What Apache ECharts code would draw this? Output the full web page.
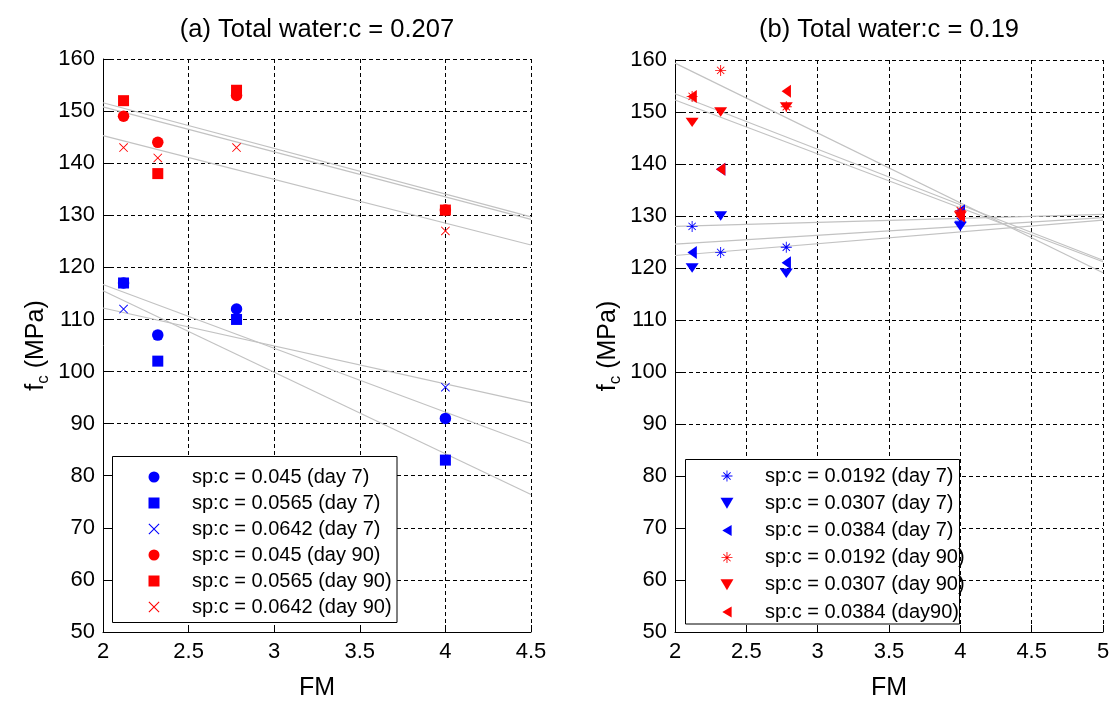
<!DOCTYPE html>
<html>
<head>
<meta charset="utf-8">
<script src="https://cdn.jsdelivr.net/npm/echarts@6/dist/echarts.min.js"></script>
<style>
html,body{margin:0;padding:0;background:#fff;}
#chart{width:1115px;height:702px;}
</style>
</head>
<body>
<div id="chart"></div>
<script>
// ---------- data ----------
const FM = [2.12, 2.32, 2.78, 4.0];

// (a) Total water:c = 0.207
const titleA = '(a) Total water:c = 0.207';
const namesA = ['sp:c = 0.045 (day 7)', 'sp:c = 0.0565 (day 7)', 'sp:c = 0.0642 (day 7)',
                'sp:c = 0.045 (day 90)', 'sp:c = 0.0565 (day 90)', 'sp:c = 0.0642 (day 90)'];
const a_045_d7   = [117, 107, 112, 91];
const a_0565_d7  = [117, 102, 110, 83];
const a_0642_d7  = [112, 107, 110, 97];
const a_045_d90  = [149, 144, 153, 131];
const a_0565_d90 = [152, 138, 154, 131];
const a_0642_d90 = [143, 141, 143, 127];
// trend lines, values read at FM = 2 and FM = 4.5
const trendFM_A = [2, 4.5];
const trendA_045_d7   = [116.7, 86.1];
const trendA_0565_d7  = [115.5, 76.4];
const trendA_0642_d7  = [112.2, 94.0];
const trendA_045_d90  = [151.6, 129.7];
const trendA_0565_d90 = [150.8, 129.2];
const trendA_0642_d90 = [145.3, 124.3];

// (b) Total water:c = 0.19
const titleB = '(b) Total water:c = 0.19';
const namesB = ['sp:c = 0.0192 (day 7)', 'sp:c = 0.0307 (day 7)', 'sp:c = 0.0384 (day 7)',
                'sp:c = 0.0192 (day 90)', 'sp:c = 0.0307 (day 90)', 'sp:c = 0.0384 (day90)'];
const b_0192_d7  = [128, 123, 124, 129];
const b_0307_d7  = [120, 130, 119, 128];
const b_0384_d7  = [123, 139, 121, 131];
const b_0192_d90 = [153, 158, 151, 131];
const b_0307_d90 = [148, 150, 151, 130];
const b_0384_d90 = [153, 139, 154, 130];
// trend lines, values read at FM = 2 and FM = 5
const trendFM_B = [2, 5];
const trendB_0192_d7  = [124.6, 129.7];
const trendB_0307_d7  = [122.4, 129.2];
const trendB_0384_d7  = [128.0, 130.3];
const trendB_0192_d90 = [159.4, 119.1];
const trendB_0307_d90 = [153.5, 121.5];
const trendB_0384_d90 = [152.3, 121.2];

// axis ticks
const xTicksA = [2, 2.5, 3, 3.5, 4, 4.5];
const xTicksB = [2, 2.5, 3, 3.5, 4, 4.5, 5];
const yTicks  = [50, 60, 70, 80, 90, 100, 110, 120, 130, 140, 150, 160];
const xLabel = 'FM';

// ---------- styling helpers ----------
const FONT = "'Liberation Sans', Arial, Helvetica, sans-serif";
const BLUE = '#0000ff', RED = '#ff0000';
const SQUARE = 'path://M0,0L100,0L100,100L0,100Z';
const X_PATH = 'path://M0,7L7,0L100,93L93,100ZM93,0L100,7L7,100L0,93Z';
const STAR_PATH = 'path://M0,46L100,46L100,54L0,54ZM54,0L54,100L46,100L46,0ZM14,20L20,14L86,80L80,86ZM80,14L86,20L20,86L14,80Z';
const DOWN_TRI = 'path://M0,0L100,0L50,85Z';
const LEFT_TRI = 'path://M85,0L85,100L0,50Z';

function pts(vals) { return FM.map((x, i) => [x, vals[i]]); }
function scatter(name, vals, color, symbol, size, ax) {
  return {
    type: 'scatter', name: name, xAxisIndex: ax, yAxisIndex: ax,
    symbol: symbol, symbolSize: size, symbolKeepAspect: true,
    itemStyle: { color: color, opacity: 1 },
    data: pts(vals), z: 3, silent: true, emphasis: { disabled: true }
  };
}
function trend(xs, ys, ax) {
  return {
    type: 'line', xAxisIndex: ax, yAxisIndex: ax, symbol: 'none',
    data: xs.map((x, i) => [x, ys[i]]),
    lineStyle: { color: '#c2c2c2', width: 1.2 }, z: 2, silent: true,
    emphasis: { disabled: true }
  };
}
function xAxis(ticks, ax) {
  return {
    gridIndex: ax, type: 'value', min: ticks[0], max: ticks[ticks.length - 1],
    interval: ticks[1] - ticks[0],
    name: xLabel, nameLocation: 'middle', nameGap: 44,
    nameTextStyle: { fontSize: 25, color: '#000', fontFamily: FONT },
    axisLine: { onZero: false, lineStyle: { color: '#000', width: 1 } },
    axisTick: { inside: true, length: 7, lineStyle: { color: '#000' } },
    axisLabel: { fontSize: 22, color: '#000', margin: 9, fontFamily: FONT,
                 showMinLabel: true, showMaxLabel: true },
    splitLine: { show: true, lineStyle: { color: '#000', type: [4, 3], width: 1 } }
  };
}
function yAxis(ax) {
  return {
    gridIndex: ax, type: 'value', min: yTicks[0], max: yTicks[yTicks.length - 1],
    interval: yTicks[1] - yTicks[0],
    name: '{m|f}{s|c}{m| (MPa)}', nameLocation: 'middle', nameRotate: 90, nameGap: 53,
    nameTextStyle: {
      color: '#000', fontFamily: FONT,
      rich: {
        m: { fontSize: 25, color: '#000', fontFamily: FONT, lineHeight: 28 },
        s: { fontSize: 17, color: '#000', fontFamily: FONT, lineHeight: 17, padding: [14, 0, 0, 0] }
      }
    },
    axisLine: { onZero: false, lineStyle: { color: '#000', width: 1 } },
    axisTick: { inside: true, length: 7, lineStyle: { color: '#000' } },
    axisLabel: { fontSize: 22, color: '#000', margin: 8, fontFamily: FONT,
                 showMinLabel: true, showMaxLabel: true },
    splitLine: { show: true, lineStyle: { color: '#000', type: [4, 3], width: 1 } }
  };
}
function legend(names, left, top, gap) {
  return {
    data: names, orient: 'vertical', left: left, top: top, padding: 0,
    itemWidth: 66, itemHeight: 11, itemGap: gap, symbolKeepAspect: true,
    backgroundColor: 'transparent', borderWidth: 0,
    textStyle: { fontSize: 20, color: '#000', fontFamily: FONT },
    selectedMode: false, z: 10
  };
}

const series = [
  // trend lines (a)
  trend(trendFM_A, trendA_045_d7, 0), trend(trendFM_A, trendA_0565_d7, 0), trend(trendFM_A, trendA_0642_d7, 0),
  trend(trendFM_A, trendA_045_d90, 0), trend(trendFM_A, trendA_0565_d90, 0), trend(trendFM_A, trendA_0642_d90, 0),
  // trend lines (b)
  trend(trendFM_B, trendB_0192_d7, 1), trend(trendFM_B, trendB_0307_d7, 1), trend(trendFM_B, trendB_0384_d7, 1),
  trend(trendFM_B, trendB_0192_d90, 1), trend(trendFM_B, trendB_0307_d90, 1), trend(trendFM_B, trendB_0384_d90, 1),
  // markers (a)
  scatter(namesA[0], a_045_d7, BLUE, 'circle', 11.5, 0),
  scatter(namesA[1], a_0565_d7, BLUE, SQUARE, 11, 0),
  scatter(namesA[2], a_0642_d7, BLUE, X_PATH, 9, 0),
  scatter(namesA[3], a_045_d90, RED, 'circle', 11.5, 0),
  scatter(namesA[4], a_0565_d90, RED, SQUARE, 11, 0),
  scatter(namesA[5], a_0642_d90, RED, X_PATH, 9, 0),
  // markers (b)
  scatter(namesB[0], b_0192_d7, BLUE, STAR_PATH, 11, 1),
  scatter(namesB[1], b_0307_d7, BLUE, DOWN_TRI, [13, 11], 1),
  scatter(namesB[2], b_0384_d7, BLUE, LEFT_TRI, [11, 13], 1),
  scatter(namesB[3], b_0192_d90, RED, STAR_PATH, 11, 1),
  scatter(namesB[4], b_0307_d90, RED, DOWN_TRI, [13, 11], 1),
  scatter(namesB[5], b_0384_d90, RED, LEFT_TRI, [11, 13], 1)
];

const option = {
  animation: false,
  backgroundColor: '#fff',
  textStyle: { fontFamily: FONT },
  title: [
    { text: titleA, left: 317, top: 29.5, textAlign: 'center', textVerticalAlign: 'middle', padding: 0,
      textStyle: { fontSize: 25.5, fontWeight: 'normal', color: '#000', fontFamily: FONT } },
    { text: titleB, left: 889, top: 29.5, textAlign: 'center', textVerticalAlign: 'middle', padding: 0,
      textStyle: { fontSize: 25.5, fontWeight: 'normal', color: '#000', fontFamily: FONT } }
  ],
  grid: [
    { left: 103, top: 59, width: 428, height: 573, containLabel: false, outerBoundsMode: 'none' },
    { left: 675, top: 60, width: 428, height: 572, containLabel: false, outerBoundsMode: 'none' }
  ],
  xAxis: [xAxis(xTicksA, 0), xAxis(xTicksB, 1)],
  yAxis: [yAxis(0), yAxis(1)],
  graphic: [
    { type: 'rect', z: 9, silent: true,
      shape: { x: 112.5, y: 456.5, width: 284.5, height: 166 },
      style: { fill: '#fff', stroke: '#000', lineWidth: 1 } },
    { type: 'rect', z: 9, silent: true,
      shape: { x: 685.5, y: 459.5, width: 274, height: 164.5 },
      style: { fill: '#fff', stroke: '#000', lineWidth: 1 } }
  ],
  legend: [
    legend(namesA, 148.5, 467, 6),
    legend(namesB, 720.5, 466, 7.2)
  ],
  series: series
};

const chart = echarts.init(document.getElementById('chart'), null, { renderer: 'canvas' });
chart.setOption(option);
</script>
</body>
</html>
